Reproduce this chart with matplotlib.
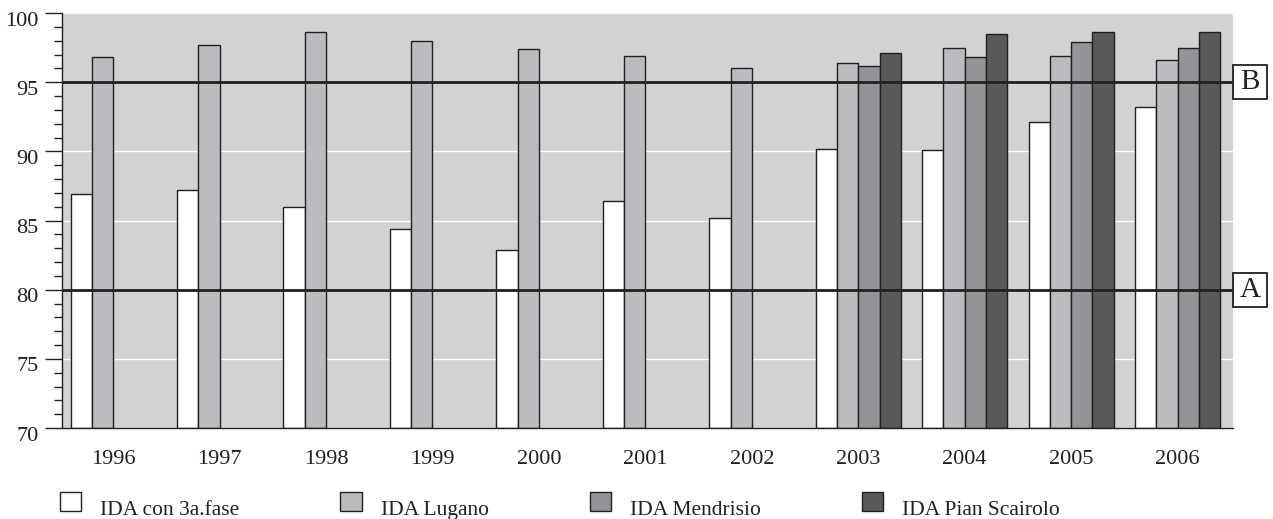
import numpy as np
import matplotlib
matplotlib.use("Agg")
import matplotlib.pyplot as plt
import matplotlib.transforms as mtransforms
from matplotlib.patches import Patch, Rectangle
from matplotlib.ticker import MultipleLocator


# data

years = ["1996", "1997", "1998", "1999", "2000", "2001",
         "2002", "2003", "2004", "2005", "2006"]

ida_3a_fase = [86.9, 87.2, 86.0, 84.4, 82.9, 86.4, 85.2, 90.2, 90.1, 92.1, 93.2]
ida_lugano = [96.8, 97.7, 98.6, 98.0, 97.4, 96.9, 96.0, 96.4, 97.5, 96.9, 96.6]
ida_mendrisio = [np.nan] * 7 + [96.2, 96.8, 97.9, 97.5]
ida_pian = [np.nan] * 7 + [97.1, 98.5, 98.6, 98.6]

series_names = ["IDA con 3a.fase", "IDA Lugano", "IDA Mendrisio", "IDA Pian Scairolo"]
series_colors = ["#ffffff", "#bbbcc0", "#939498", "#58595b"]

thresholds = [80, 95]
threshold_labels = ["A", "B"]


plt.rcParams["font.family"] = ["Liberation Serif", "DejaVu Serif"]

fig = plt.figure(figsize=(12.73, 5.19), dpi=100)
ax = fig.add_axes([62 / 1273, 1 - 428 / 519, 1171 / 1273, 415 / 519])
ax.set_facecolor("#d1d2d4")

x = np.arange(len(years))
width = 0.2
all_series = [ida_3a_fase, ida_lugano, ida_mendrisio, ida_pian]

for i, (vals, color) in enumerate(zip(all_series, series_colors)):
    vals = np.array(vals, dtype=float)
    ok = ~np.isnan(vals)
    # bars grow up from the 70 baseline
    ax.bar(x[ok] + (i - 1.5) * width, vals[ok] - 70, bottom=70,
           width=width, color=color, edgecolor="#231f20",
           linewidth=1.0, zorder=2)

ax.set_xlim(-0.48, 10.52)
ax.set_ylim(70, 100)

# white grid behind bars
ax.yaxis.set_major_locator(MultipleLocator(5))
ax.yaxis.set_minor_locator(MultipleLocator(1))
ax.grid(axis="y", which="major", color="white", linewidth=1.0, zorder=0)
ax.set_axisbelow(True)

ax.set_xticks(x)
ax.set_xticklabels(years)
ax.tick_params(axis="x", length=0, pad=16, labelsize=16, colors="#231f20")
ax.tick_params(axis="y", which="major", length=12, width=1.0, pad=5,
               labelsize=16, colors="#231f20")
ax.tick_params(axis="y", which="minor", length=6, width=1.0, colors="#231f20")

# y labels sit just below their tick in the original
shift = mtransforms.ScaledTranslation(0, -4 / 72, fig.dpi_scale_trans)
for lbl in ax.get_yticklabels():
    lbl.set_transform(lbl.get_transform() + shift)

for side in ["top", "right"]:
    ax.spines[side].set_visible(False)
for side in ["left", "bottom"]:
    ax.spines[side].set_color("#231f20")
    ax.spines[side].set_linewidth(1.0)

# reference lines A / B with boxed labels outside the axes
trans = ax.get_yaxis_transform()
box_w = 34 / 1171
box_h = 34 / (415 / 30)
for val, lab in zip(thresholds, threshold_labels):
    ax.axhline(val, color="#231f20", linewidth=2.0, zorder=3)
    ax.add_patch(Rectangle((1.0, val - box_h / 2), box_w, box_h,
                           transform=trans, facecolor="white",
                           edgecolor="#231f20", linewidth=1.3,
                           clip_on=False, zorder=4))
    ax.text(1.0 + box_w / 2, val, lab, transform=trans, ha="center",
            va="center", fontsize=21, color="#231f20", clip_on=False, zorder=5)

handles = [Patch(facecolor=c, edgecolor="#231f20", linewidth=1.0)
           for c in series_colors]
leg = fig.legend(handles, series_names, loc="center left",
                 bbox_to_anchor=(60 / 1273, 1 - 503 / 519), ncol=4,
                 frameon=False, fontsize=15.5, borderpad=0, borderaxespad=0,
                 handlelength=0.98, handleheight=1.0, handletextpad=0.88,
                 columnspacing=4.7, labelcolor="#231f20")

# legend text sits a bit lower than the swatches
text_shift = mtransforms.ScaledTranslation(0, -4 / 72, fig.dpi_scale_trans)
for t in leg.get_texts():
    t.set_transform(t.get_transform() + text_shift)

fig.savefig("out.png", dpi=100, facecolor="white")
